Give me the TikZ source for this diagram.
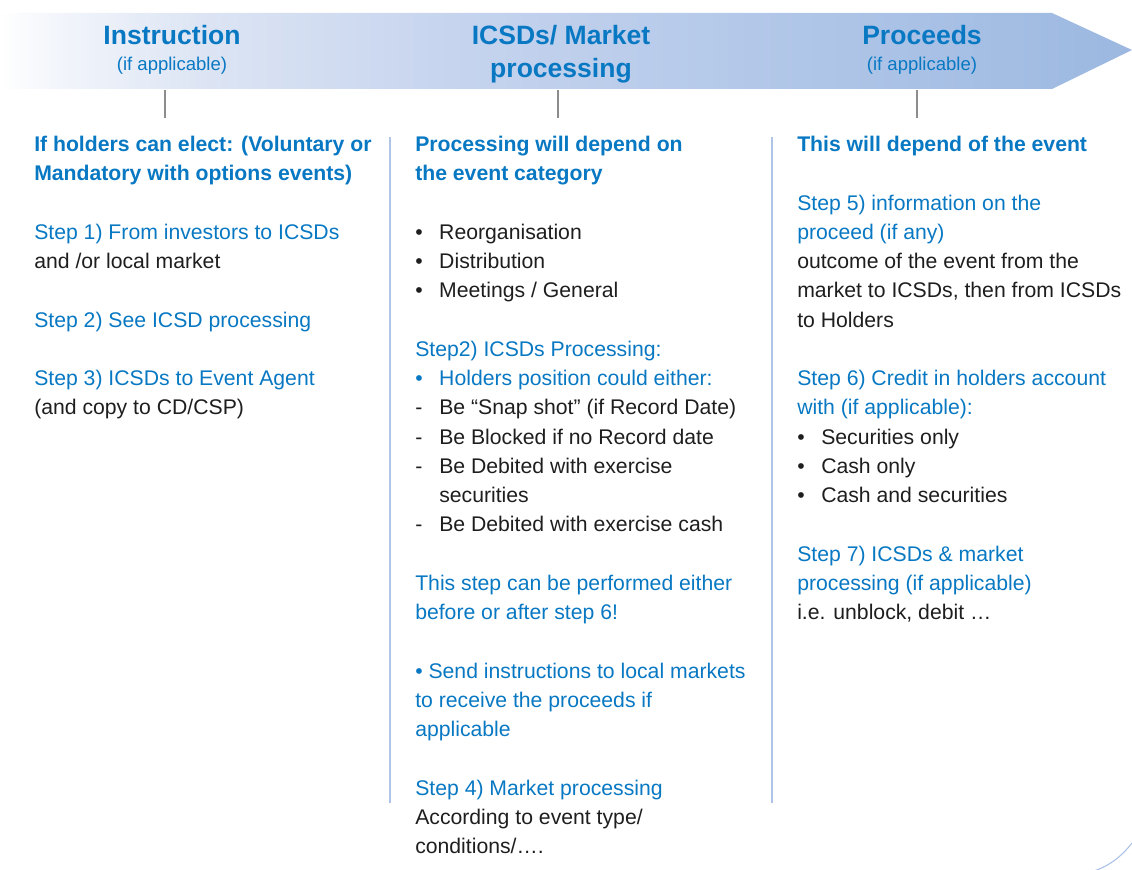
\documentclass[tikz,border=0pt]{standalone}
\usepackage{fontspec}
\setmainfont{Liberation Sans}
\definecolor{tblue}{HTML}{0878C3}
\definecolor{tdark}{HTML}{1E1E1E}
\definecolor{tickgray}{HTML}{8C8C8C}
\definecolor{seplblue}{HTML}{AFC4E6}
\definecolor{bandA}{HTML}{F2F5FB}
\definecolor{bandB}{HTML}{DDE5F4}
\definecolor{bandC}{HTML}{C6D4EE}
\definecolor{bandD}{HTML}{B0C6E8}
\definecolor{bandE}{HTML}{9CB8E0}
\definecolor{arcblue}{HTML}{A9C0E8}
\pgfdeclarehorizontalshading{bandshade}{100bp}{color(0bp)=(white); color(25bp)=(white); color(27.6bp)=(bandA); color(33.8bp)=(bandB); color(44.9bp)=(bandC); color(60.3bp)=(bandD); color(75bp)=(bandE); color(100bp)=(bandE)}
\tikzset{
  body/.style={anchor=base west, inner sep=0pt, font=\fontsize{15.9}{19}\selectfont},
  bl/.style={body, text=tblue},
  bk/.style={body, text=tdark},
  bb/.style={body, text=tblue, font=\fontsize{15.9}{19}\selectfont\bfseries},
  hd/.style={anchor=base, inner sep=0pt, text=tblue, font=\fontsize{19.9}{24}\selectfont\bfseries},
  hs/.style={anchor=base, inner sep=0pt, text=tblue, font=\fontsize{13.9}{16}\selectfont},
  tickline/.style={draw=tickgray, line width=1.5pt},
  sepline/.style={draw=seplblue, line width=0.9pt},
}
\newcommand\putline[5]{\node[#4] (#1) at (#2,{151.5+29.25*#3}) {#5};}
\newcommand\bul{\makebox[18pt][l]{•}}
\newcommand\dsh{\makebox[18pt][l]{-}}
\newcommand\indt{\hspace*{18pt}}
\begin{document}
\begin{tikzpicture}[x=0.75pt,y=-0.75pt]
\useasboundingbox (0,0) rectangle (1132,870);
% header band
\path[shading=bandshade] (0,13) -- (1052,13) -- (1132,50) -- (1052,89) -- (0,89) -- cycle;
\node[hd] (h1) at (172,45) {Instruction};
\node[hs] (h1s) at (172,71) {(if applicable)};
\node[hd] (h2) at (561,44.5) {ICSDs/ Market};
\node[hd] (h2b) at (561,78) {processing};
\node[hd] (h3) at (922,45) {Proceeds};
\node[hs] (h3s) at (922,71) {(if applicable)};
% ticks
\coordinate (t1a) at (165,90); \coordinate (t1b) at (165,118);
\coordinate (t2a) at (558,90); \coordinate (t2b) at (558,118);
\coordinate (t3a) at (917,90); \coordinate (t3b) at (917,118);
\draw[tickline] (t1a) -- (t1b);
\draw[tickline] (t2a) -- (t2b);
\draw[tickline] (t3a) -- (t3b);
% separators
\coordinate (s1a) at (390,137); \coordinate (s1b) at (390,803);
\coordinate (s2a) at (772,137); \coordinate (s2b) at (772,803);
\draw[sepline] (s1a) -- (s1b);
\draw[sepline] (s2a) -- (s2b);
% corner arc
\coordinate (arcA) at (1132,843); \coordinate (arcB) at (1094,871);
\draw[arcblue, line width=0.8pt] (arcA) .. controls (1121,857) and (1109,866) .. (arcB);
% column 1
\putline{a0}{34}{0}{bb}{If holders can elect: (Voluntary or}
\putline{a1}{34}{1}{bb}{Mandatory with options events)}
\putline{a3}{34}{3}{bl}{Step 1) From investors to ICSDs}
\putline{a4}{34}{4}{bk}{and /or local market}
\putline{a6}{34}{6}{bl}{Step 2) See ICSD processing}
\putline{a8}{34}{8}{bl}{Step 3) ICSDs to Event Agent}
\putline{a9}{34}{9}{bk}{(and copy to CD/CSP)}
% column 2
\putline{b0}{415}{0}{bb}{Processing will depend on}
\putline{b1}{415}{1}{bb}{the event category}
\putline{b3}{415}{3}{bk}{\bul Reorganisation}
\putline{b4}{415}{4}{bk}{\bul Distribution}
\putline{b5}{415}{5}{bk}{\bul Meetings / General}
\putline{b7}{415}{7}{bl}{Step2) ICSDs Processing:}
\putline{b8}{415}{8}{bl}{\bul Holders position could either:}
\putline{b9}{415}{9}{bk}{\dsh Be “Snap shot” (if Record Date)}
\putline{b10}{415}{10}{bk}{\dsh Be Blocked if no Record date}
\putline{b11}{415}{11}{bk}{\dsh Be Debited with exercise}
\putline{b12}{415}{12}{bk}{\indt securities}
\putline{b13}{415}{13}{bk}{\dsh Be Debited with exercise cash}
\putline{b15}{415}{15}{bl}{This step can be performed either}
\putline{b16}{415}{16}{bl}{before or after step 6!}
\putline{b18}{415}{18}{bl}{• Send instructions to local markets}
\putline{b19}{415}{19}{bl}{to receive the proceeds if}
\putline{b20}{415}{20}{bl}{applicable}
\putline{b22}{415}{22}{bl}{Step 4) Market processing}
\putline{b23}{415}{23}{bk}{According to event type/}
\putline{b24}{415}{24}{bk}{conditions/….}
% column 3
\putline{c0}{797}{0}{bb}{This will depend of the event}
\putline{c2}{797}{2}{bl}{Step 5) information on the}
\putline{c3}{797}{3}{bl}{proceed (if any)}
\putline{c4}{797}{4}{bk}{outcome of the event from the}
\putline{c5}{797}{5}{bk}{market to ICSDs, then from ICSDs}
\putline{c6}{797}{6}{bk}{to Holders}
\putline{c8}{797}{8}{bl}{Step 6) Credit in holders account}
\putline{c9}{797}{9}{bl}{with (if applicable):}
\putline{c10}{797}{10}{bk}{\bul Securities only}
\putline{c11}{797}{11}{bk}{\bul Cash only}
\putline{c12}{797}{12}{bk}{\bul Cash and securities}
\putline{c14}{797}{14}{bl}{Step 7) ICSDs \& market}
\putline{c15}{797}{15}{bl}{processing (if applicable)}
\putline{c16}{797}{16}{bk}{i.e. unblock, debit …}
\end{tikzpicture}
\end{document}
